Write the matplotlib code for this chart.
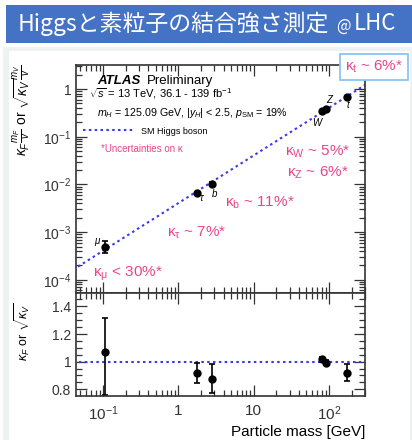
import matplotlib
matplotlib.use("Agg")
import matplotlib.pyplot as plt
from matplotlib.patches import Rectangle
from matplotlib.ticker import FixedLocator, FixedFormatter, LogLocator, NullFormatter, MultipleLocator

plt.rcParams['font.family'] = ['Liberation Sans', 'DejaVu Sans']
plt.rcParams['mathtext.fontset'] = 'custom'
plt.rcParams['mathtext.rm'] = 'Liberation Sans'
plt.rcParams['mathtext.it'] = 'Liberation Sans:italic'
plt.rcParams['mathtext.bf'] = 'Liberation Sans:bold'

# ---------------- data ----------------
particles = ['μ', 'τ', 'b', 'W', 'Z', 't']
mass = [0.1057, 1.777, 2.76, 80.4, 91.2, 172.5]
# upper panel: reduced coupling
coupling = [5.0e-4, 6.6e-3, 1.02e-2, 0.35, 0.39, 0.69]
coupling_lo = [1.3e-4, 0.4e-3, 0.9e-3, 0.01, 0.01, 0.04]
coupling_hi = [1.5e-4, 0.4e-3, 0.9e-3, 0.01, 0.01, 0.04]
# lower panel: kappa
kappa = [1.068, 0.917, 0.874, 1.017, 0.993, 0.92]
kappa_lo = [0.31, 0.07, 0.10, 0.02, 0.02, 0.063]
kappa_hi = [0.245, 0.076, 0.11, 0.02, 0.02, 0.063]
# SM line (m / v)
vev = 246.0
sm_mass = [0.04, 320.0]
sm_coupling = [m / vev for m in sm_mass]
sm_kappa = [1.0, 1.0]

label_offsets = [(-8, 6), (4, -5), (3, -10), (-5, -12), (3, 9), (1, -8)]

xticks = [0.1, 1, 10, 100]
xticklabels = [r'$10^{-1}$', '1', '10', r'$10^{2}$']
yticks_up = [1e-4, 1e-3, 1e-2, 1e-1, 1]
yticklabels_up = [r'$10^{-4}$', r'$10^{-3}$', r'$10^{-2}$', r'$10^{-1}$', '1']
yticks_lo = [0.8, 1.0, 1.2, 1.4]
yticklabels_lo = ['0.8', '1', '1.2', '1.4']

kappa_notes = [
    ('κ$_\\mathregular{W}$ ~ 5%*', 0.723, 0.618),
    ('κ$_\\mathregular{Z}$ ~ 6%*', 0.730, 0.526),
    ('κ$_\\mathregular{b}$ ~ 11%*', 0.516, 0.395),
    ('κ$_\\mathregular{τ}$ ~ 7%*', 0.315, 0.263),
    ('κ$_\\mathregular{μ}$ < 30%*', 0.059, 0.083),
]

PINK = '#e8468c'
SMBLUE = '#3a3af0'
AXC = '#333333'
CJK = ['Noto Sans CJK JP', 'DejaVu Sans']

W, H = 412, 440
fig = plt.figure(figsize=(W / 100, H / 100), dpi=100)
fig.patch.set_facecolor('white')

# background panels
fig.add_artist(Rectangle((3 / W, 0), (W - 3) / W, (H - 47) / H, transform=fig.transFigure,
                         facecolor='#eef3f1', edgecolor='none', zorder=-10))
fig.add_artist(Rectangle((9 / W, 0), (W - 11) / W, (H - 51) / H, transform=fig.transFigure,
                         facecolor='white', edgecolor='none', zorder=-9))
# title bar
fig.add_artist(Rectangle((6 / W, (H - 43) / H), (W - 6) / W, 38 / H, transform=fig.transFigure,
                         facecolor='#4472c4', edgecolor='none', zorder=-5))
fig.text(18 / W, (H - 24) / H, 'Higgsと素粒子の結合強さ測定', color='white', fontsize=16.5,
         family=CJK, va='center', ha='left')
fig.text(336 / W, (H - 26) / H, '@', color='white', fontsize=11,
         family=CJK, va='center', ha='left')
fig.text(354 / W, (H - 24) / H, 'LHC', color='white', fontsize=16,
         family=CJK, va='center', ha='left')

ax_l, ax_r = 76, 365
up_t, mid, lo_b = 65, 293, 396
ax1 = fig.add_axes([ax_l / W, (H - mid) / H, (ax_r - ax_l) / W, (mid - up_t) / H])
ax2 = fig.add_axes([ax_l / W, (H - lo_b) / H, (ax_r - ax_l) / W, (lo_b - mid) / H])

xlim = (0.0438, 300)
for ax in (ax1, ax2):
    ax.set_xscale('log')
    ax.set_xlim(*xlim)
    for s in ax.spines.values():
        s.set_color(AXC)
        s.set_linewidth(1.2)
    ax.tick_params(which='both', direction='in', top=True, right=True, colors=AXC,
                   labelsize=10, width=0.9)
    ax.tick_params(which='major', length=8)
    ax.tick_params(which='minor', length=4)
    ax.xaxis.set_major_locator(FixedLocator(xticks))
    ax.xaxis.set_minor_locator(LogLocator(base=10, subs=range(2, 10)))
    ax.xaxis.set_minor_formatter(NullFormatter())
ax1.tick_params(labelbottom=False)
ax2.set_xticklabels(xticklabels)
ax2.tick_params(axis='x', pad=6, labelsize=11)

# upper panel
ax1.set_yscale('log')
ax1.set_ylim(5.3e-5, 3.2)
ax1.yaxis.set_major_locator(FixedLocator(yticks_up))
ax1.yaxis.set_major_formatter(FixedFormatter(yticklabels_up))
ax1.yaxis.set_minor_locator(LogLocator(base=10, subs=range(2, 10)))
ax1.yaxis.set_minor_formatter(NullFormatter())

ax1.plot(sm_mass, sm_coupling, ls=(0, (1.2, 1.6)), color=SMBLUE, lw=1.5, label='SM Higgs boson')
ax1.errorbar(mass, coupling, yerr=[coupling_lo, coupling_hi], fmt='o', color='black',
             ms=5, capsize=2.5, elinewidth=1.2, capthick=1.2)
for p, m, c, off in zip(particles, mass, coupling, label_offsets):
    ax1.annotate(p, (m, c), xytext=off, textcoords='offset pixels', fontsize=7,
                 style='italic', ha='center', va='center', color='black')

ax1.text(0.073, 0.931, 'ATLAS', transform=ax1.transAxes, fontsize=9.5,
         fontweight='bold', style='italic', va='center', ha='left')
ax1.text(0.245, 0.931, 'Preliminary', transform=ax1.transAxes, fontsize=9.5,
         va='center', ha='left')
ax1.text(0.045, 0.876, r'$\sqrt{s}$ = 13 TeV, 36.1 - 139 fb$^{-1}$', transform=ax1.transAxes,
         fontsize=8, va='center', ha='left')
ax1.text(0.073, 0.789, r'$m_H$ = 125.09 GeV, |$y_H$| < 2.5, $p_{\mathrm{SM}}$ = 19%',
         transform=ax1.transAxes, fontsize=7.7, va='center', ha='left')
ax1.legend(loc='center left', bbox_to_anchor=(0.024, 0.71), frameon=False, fontsize=6.5,
           handlelength=5.5, borderpad=0, borderaxespad=0, handletextpad=0.9)
ax1.text(0.087, 0.632, '*Uncertainties on κ', transform=ax1.transAxes, fontsize=7,
         color=PINK, va='center', ha='left')
for txt, x, y in kappa_notes:
    ax1.text(x, y, txt, transform=ax1.transAxes, fontsize=11, color=PINK,
             va='center', ha='left')
ax1.text(1.031, 0.991, 'κ$_\\mathregular{t}$ ~ 6%*', transform=ax1.transAxes, fontsize=11,
         color=PINK, va='center', ha='center', clip_on=False,
         bbox=dict(boxstyle='square,pad=0.3', facecolor='white', edgecolor='#8cc4f2', lw=1.3))

ax1.set_ylabel(r'$\kappa_F\frac{m_F}{v}$ or $\sqrt{\kappa_V}\frac{m_V}{v}$', fontsize=10)
ax1.yaxis.set_label_coords(-0.148, 0.80)

# lower panel
ax2.set_ylim(0.751, 1.497)
ax2.yaxis.set_major_locator(FixedLocator(yticks_lo))
ax2.yaxis.set_major_formatter(FixedFormatter(yticklabels_lo))
ax2.yaxis.set_minor_locator(MultipleLocator(0.05))
ax2.plot(sm_mass, sm_kappa, ls=(0, (1.2, 1.6)), color=SMBLUE, lw=1.5)
ax2.errorbar(mass, kappa, yerr=[kappa_lo, kappa_hi], fmt='o', color='black',
             ms=5, capsize=2.5, elinewidth=1.2, capthick=1.2)
ax2.set_ylabel(r'$\kappa_F$ or $\sqrt{\kappa_V}$', fontsize=9)
ax2.yaxis.set_label_coords(-0.148, 0.62)
ax2.set_xlabel('Particle mass [GeV]', fontsize=11, ha='right', va='center')
ax2.xaxis.set_label_coords(1.0, -0.345)

fig.savefig('out.png', dpi=100)
